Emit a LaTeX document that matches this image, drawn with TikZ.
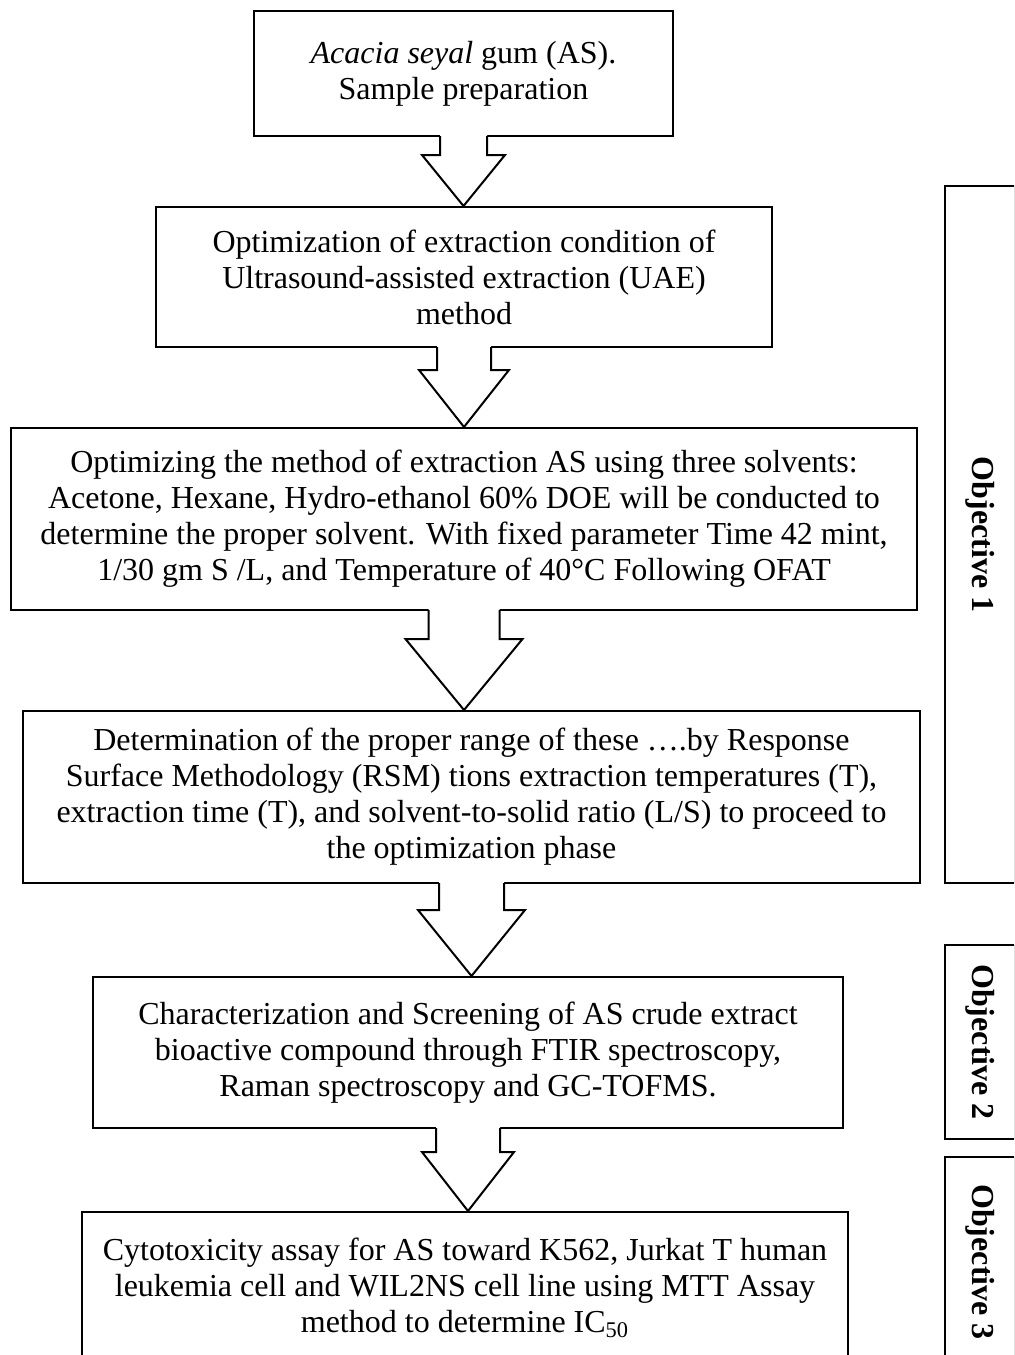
\documentclass[tikz,border=0pt]{standalone}
\usepackage{fontspec}
\setmainfont{Liberation Serif}
\usetikzlibrary{calc,positioning}

\begin{document}
\begin{tikzpicture}[x=0.5pt,y=-0.5pt,
  procbox/.style={draw, line width=1pt, align=center, inner sep=0pt,
                  font=\fontsize{16}{18}\selectfont},
  objbox/.style={draw, line width=1pt, rotate=-90, inner sep=0pt,
                 minimum height=35pt, font=\fontsize{16}{18}\selectfont\bfseries},
  flowline/.style={line width=1pt}]

 \useasboundingbox (0,0) rectangle (1014,1355);
 \fill[white] (0,0) rectangle (1014,1355);
 \clip (0,0) rectangle (1014,1355);

 % steps
 \node[procbox, minimum width=209.5pt, minimum height=62.5pt] (b1) at (463.5,73.5)
   {\textit{Acacia seyal} gum (AS).\\ Sample preparation};
 \node[procbox, minimum width=308pt, minimum height=70pt] (b2) at (464,277)
   {Optimization of extraction condition of\\ Ultrasound-assisted extraction (UAE)\\ method};
 \node[procbox, minimum width=453pt, minimum height=91pt] (b3) at (464,519)
   {Optimizing the method of extraction AS using three solvents:\\
    Acetone, Hexane, Hydro-ethanol 60\% DOE will be conducted to\\
    determine the proper solvent. With fixed parameter Time 42 mint,\\
    1/30 gm S /L, and Temperature of 40°C Following OFAT};
 \node[procbox, minimum width=448.5pt, minimum height=86pt] (b4) at (471.5,797)
   {Determination of the proper range of these ….by Response\\
    Surface Methodology (RSM) tions extraction temperatures (T),\\
    extraction time (T), and solvent-to-solid ratio (L/S) to proceed to\\
    the optimization phase};
 \node[procbox, minimum width=375pt, minimum height=75.5pt] (b5) at (468,1052.5)
   {Characterization and Screening of AS crude extract\\
    bioactive compound through FTIR spectroscopy,\\
    Raman spectroscopy and GC-TOFMS.};
 \node[procbox, minimum width=383pt, minimum height=76pt] (b6) at (465,1288)
   {Cytotoxicity assay for AS toward K562, Jurkat T human\\
    leukemia cell and WIL2NS cell line using MTT Assay\\
    method to determine IC\textsubscript{50}};

 % objectives
 \node[objbox, minimum width=348.5pt] (o1) at (980,534.5) {Objective 1};
 \node[objbox, minimum width=97pt] (o2) at (980,1042) {Objective 2};
 \node[objbox, minimum width=105pt] (o3) at (980,1262) {Objective 3};

 % block arrows
 \foreach \a/\b/\s/\h/\l in {b1/b2/23.5/41.5/18, b2/b3/27/45/22, b3/b4/35.5/58.5/28,
                             b4/b5/32.5/53.5/26, b5/b6/32/46/23}
 {
   \fill[white] ($(\a.south)+(-\s,-3)$) -- ($(\a.south)+(-\s,\l)$) -- ($(\a.south)+(-\h,\l)$)
     -- (\a.south |- \b.north) -- ($(\a.south)+(\h,\l)$) -- ($(\a.south)+(\s,\l)$)
     -- ($(\a.south)+(\s,-3)$) -- cycle;
   \draw[flowline] ($(\a.south)+(-\s,-1)$) -- ($(\a.south)+(-\s,\l)$) -- ($(\a.south)+(-\h,\l)$)
     -- (\a.south |- \b.north) -- ($(\a.south)+(\h,\l)$) -- ($(\a.south)+(\s,\l)$)
     -- ($(\a.south)+(\s,-1)$);
 }
\end{tikzpicture}
\end{document}
